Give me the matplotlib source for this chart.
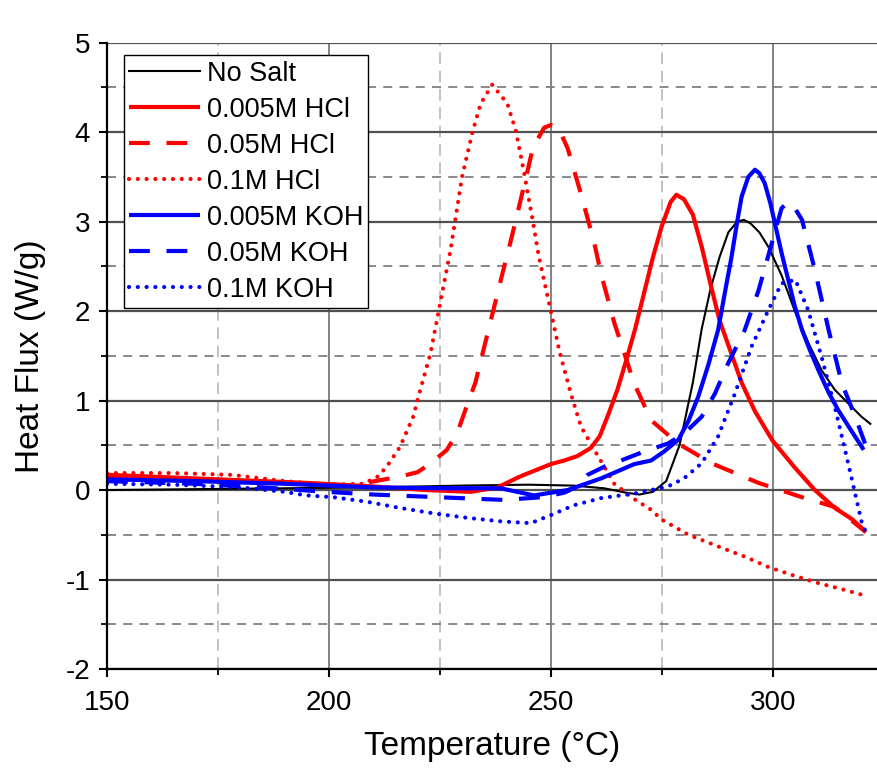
import matplotlib
matplotlib.use('Agg')
import matplotlib.pyplot as plt
from matplotlib.ticker import MultipleLocator

plt.rcParams['font.family'] = ['Liberation Sans', 'DejaVu Sans']
plt.rcParams['axes.unicode_minus'] = False

# (temperature in C, heat flux in W/g)
no_salt_x = [150, 170, 190, 210, 230, 245, 255, 262, 267, 270, 273, 276, 279, 282, 284, 286, 288, 290, 292,
             293.5, 295, 297, 299, 302, 305, 308, 311, 314, 317, 320, 322]
no_salt_y = [0.0, 0.01, 0.02, 0.03, 0.05, 0.06, 0.05, 0.02, -0.03, -0.05, -0.02, 0.1, 0.5, 1.2, 1.8, 2.25, 2.6,
             2.88, 3.0, 3.02, 2.98, 2.88, 2.72, 2.4, 2.0, 1.65, 1.34, 1.12, 0.97, 0.82, 0.74]

hcl_005_x = [150, 165, 180, 195, 210, 222, 232, 238, 243, 247, 250, 253, 256, 259, 261, 263, 265, 267, 269, 271,
             273, 275, 277, 278.3, 280, 282, 284, 286, 288, 290, 293, 296, 300, 305, 309.5, 314, 318, 321]
hcl_005_y = [0.17, 0.14, 0.11, 0.08, 0.04, 0.0, -0.02, 0.03, 0.15, 0.23, 0.29, 0.33, 0.38, 0.47, 0.6, 0.85, 1.12,
             1.45, 1.8, 2.2, 2.6, 2.95, 3.22, 3.3, 3.25, 3.08, 2.72, 2.3, 1.9, 1.62, 1.2, 0.88, 0.55, 0.25, 0.0,
             -0.2, -0.33, -0.47]

hcl_05_x = [150, 170, 190, 205, 211.5, 216, 220, 223, 226.6, 229, 231, 233, 235, 237, 239, 241, 243, 246, 248.5,
            250, 251.6, 253.8, 256.8, 259.8, 261.3, 264.3, 268.8, 272.6, 278.7, 286.2, 296.8, 306.6, 314, 321]
hcl_05_y = [0.15, 0.12, 0.08, 0.05, 0.11, 0.15, 0.2, 0.3, 0.45, 0.65, 0.93, 1.2, 1.6, 2.0, 2.4, 2.79, 3.2, 3.83,
            4.05, 4.08, 4.06, 3.82, 3.31, 2.76, 2.42, 1.87, 1.19, 0.78, 0.52, 0.3, 0.08, -0.08, -0.19, -0.47]

hcl_1_x = [150, 165, 178, 190, 200, 207.7, 211, 213, 216, 219, 220.6, 222.9, 225, 227.4, 230, 232.3, 234.2, 236.8,
           240.2, 242.1, 243.9, 245.9, 247.3, 250, 251.9, 254.5, 256.8, 259.8, 264.3, 268.8, 272.6, 275, 281,
           287.7, 294, 299, 305, 310.3, 315, 320.1]
hcl_1_y = [0.19, 0.19, 0.17, 0.1, 0.06, 0.07, 0.15, 0.26, 0.48, 0.82, 1.12, 1.53, 2.07, 2.68, 3.5, 3.99, 4.32, 4.53,
           4.32, 4.02, 3.57, 3.02, 2.61, 2.0, 1.56, 1.08, 0.71, 0.45, 0.07, -0.1, -0.22, -0.33, -0.5, -0.63, -0.75,
           -0.86, -0.96, -1.04, -1.1, -1.17]

koh_005_x = [150, 170, 190, 210, 225, 238.7, 246.2, 253.8, 261.3, 266, 268.8, 272.6, 275.5, 278.7, 281, 283.2,
             285.5, 287.7, 289.2, 290.7, 292, 293, 294.5, 296, 297, 298.2, 299.5, 300.5, 302, 303.5, 305, 306.6,
             308.5, 310.3, 312.5, 314.8, 317.5, 320.5]
koh_005_y = [0.12, 0.1, 0.07, 0.03, 0.02, 0.02, -0.06, 0.0, 0.13, 0.23, 0.29, 0.33, 0.43, 0.56, 0.77, 1.04, 1.4,
             1.79, 2.2, 2.6, 3.0, 3.28, 3.5, 3.58, 3.54, 3.43, 3.2, 2.98, 2.65, 2.35, 2.05, 1.79, 1.55, 1.34, 1.1,
             0.89, 0.68, 0.45]

koh_05_x = [150, 170, 185, 199.5, 210, 219.8, 229.6, 239.4, 248, 253, 256, 258.3, 262, 265.8, 271, 276.4, 280, 284,
            287, 290, 293.7, 296.8, 299.8, 302, 303.5, 305, 306.6, 309.5, 312.6, 315.6, 318.6, 320.8]
koh_05_y = [0.1, 0.07, 0.03, -0.02, -0.05, -0.07, -0.09, -0.11, -0.08, -0.03, 0.04, 0.17, 0.26, 0.33, 0.43, 0.52,
            0.63, 0.82, 1.08, 1.42, 1.79, 2.23, 2.76, 3.15, 3.22, 3.15, 3.02, 2.46, 1.79, 1.19, 0.82, 0.52]

koh_1_x = [150, 165, 180, 190, 195, 201, 208.5, 216, 223.5, 231.1, 238.7, 245.5, 250, 255.2, 261.3, 268.8, 276.4,
           280, 284, 287.7, 291.5, 295.2, 299, 302, 305.1, 308, 311, 314, 317, 320.1, 320.8]
koh_1_y = [0.07, 0.06, 0.03, -0.02, -0.06, -0.08, -0.13, -0.2, -0.26, -0.31, -0.35, -0.37, -0.28, -0.17, -0.09,
           -0.04, 0.04, 0.13, 0.3, 0.6, 1.08, 1.6, 2.01, 2.31, 2.35, 2.01, 1.49, 0.93, 0.3, -0.37, -0.45]

series = [
    ('No Salt', no_salt_x, no_salt_y, 'black', 'solid'),
    ('0.005M HCl', hcl_005_x, hcl_005_y, 'red', 'solid'),
    ('0.05M HCl', hcl_05_x, hcl_05_y, 'red', 'dashed'),
    ('0.1M HCl', hcl_1_x, hcl_1_y, 'red', 'dotted'),
    ('0.005M KOH', koh_005_x, koh_005_y, 'blue', 'solid'),
    ('0.05M KOH', koh_05_x, koh_05_y, 'blue', 'dashed'),
    ('0.1M KOH', koh_1_x, koh_1_y, 'blue', 'dotted'),
]

fig = plt.figure(figsize=(8.77, 7.69), dpi=100)
ax = fig.add_axes([107 / 877, 1 - 669 / 769, 1 - 107 / 877, (669 - 42.7) / 769])

for label, x, y, color, style in series:
    if color == 'black':
        ax.plot(x, y, color=color, lw=1.5, label=label)
    elif style == 'solid':
        ax.plot(x, y, color=color, lw=3.0, label=label, solid_capstyle='butt')
    elif style == 'dashed':
        ax.plot(x, y, color=color, lw=3.0, label=label, dashes=(5.0, 4.0), dash_capstyle='butt')
    else:
        ax.plot(x, y, color=color, lw=3.0, label=label, dashes=(0.01, 2.1), dash_capstyle='round')

ax.set_xlim(150, 323.5)
ax.set_ylim(-2, 5)
ax.xaxis.set_major_locator(MultipleLocator(50))
ax.xaxis.set_minor_locator(MultipleLocator(25))
ax.yaxis.set_major_locator(MultipleLocator(1))
ax.yaxis.set_minor_locator(MultipleLocator(0.5))

ax.set_axisbelow(True)
ax.grid(axis='x', which='major', color='#7a7a7a', lw=1.3)
ax.grid(axis='y', which='major', color='#505050', lw=1.6)
ax.grid(axis='x', which='minor', color='#b8b8b8', lw=1.2, dashes=(7, 4))
ax.grid(axis='y', which='minor', color='#808080', lw=1.3, dashes=(5, 4))

ax.spines['top'].set_visible(False)
ax.spines['right'].set_visible(False)
ax.spines['left'].set_linewidth(1.6)
ax.spines['bottom'].set_linewidth(1.6)

ax.tick_params(axis='x', which='major', direction='out', length=6, width=1.5, labelsize=20, pad=9)
ax.tick_params(axis='y', which='major', direction='out', length=6, width=1.5, labelsize=20, pad=6)
ax.tick_params(which='minor', direction='out', length=4, width=1.3)

ax.set_xlabel('Temperature (\u00b0C)', fontsize=24, labelpad=11)
ax.set_ylabel('Heat Flux (W/g)', fontsize=24, labelpad=14)

leg = ax.legend(loc='upper left', bbox_to_anchor=(0.022, 0.980), borderaxespad=0, fontsize=19.5,
                fancybox=False, framealpha=1, edgecolor='black', handlelength=2.6, handletextpad=0.25,
                borderpad=0.2, labelspacing=0.37)
leg.get_frame().set_linewidth(1.0)

fig.savefig('out.png', dpi=100)
